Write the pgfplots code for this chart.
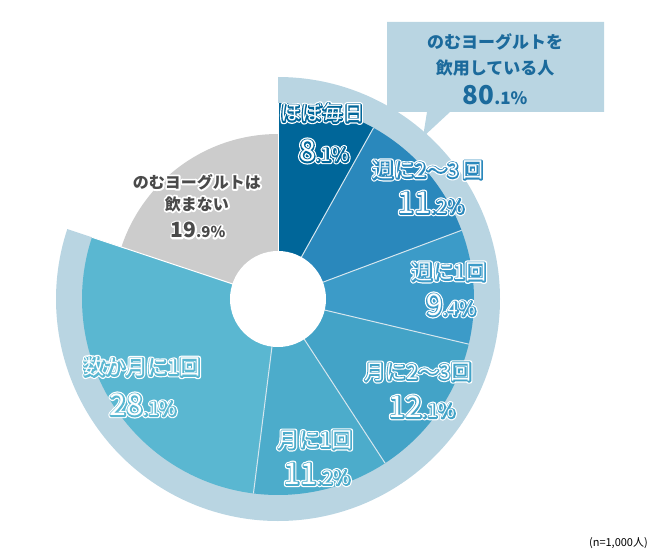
\documentclass[border=0pt]{standalone}
\usepackage{fontspec}
\setmainfont{Noto Sans CJK JP}
\usepackage{pgfplots}
\pgfplotsset{compat=1.18}
\usepackage{pgfplotstable}

\definecolor{c0}{HTML}{006699}
\definecolor{c1}{HTML}{2A88BC}
\definecolor{c2}{HTML}{3C9BC8}
\definecolor{c3}{HTML}{43A3C7}
\definecolor{c4}{HTML}{4CACCB}
\definecolor{c5}{HTML}{5AB7D1}
\definecolor{c6}{HTML}{CCCCCC}
\definecolor{ring}{HTML}{B9D5E2}
\definecolor{sep}{HTML}{D6E6EE}
\definecolor{boxtext}{HTML}{1B6A9C}
\definecolor{graytext}{HTML}{4A4A4A}

% shares in percent, clockwise from 12 o'clock
\pgfplotstableread{
share
8.1
11.2
9.4
12.1
11.2
28.1
19.9
}\shares

% start / end angle of every slice
\xdef\cum{0}
\foreach \i in {0,...,6}{%
  \pgfplotstablegetelem{\i}{share}\of\shares
  \pgfmathsetmacro\a{90-3.6*\cum}%
  \pgfmathsetmacro\b{90-3.6*(\cum+\pgfplotsretval)}%
  \expandafter\xdef\csname sa\i\endcsname{\a}%
  \expandafter\xdef\csname sb\i\endcsname{\b}%
  \pgfmathsetmacro\c{\cum+\pgfplotsretval}%
  \xdef\cum{\c}%
}

\newcommand\fs[1]{\fontsize{#1}{#1}\selectfont}
\newcommand\pc[4]{{\fs{#3}#1}{\fs{#4}#2}}
\newcommand\trset[1]{\special{pdf:literal direct #1}}

% white text, a thin line of the slice colour, then a white halo
% #1 position, #2 font, #3 slice colour, #4 text
\newcommand\olnode[4]{%
  \node[inner sep=0pt, font=#2, text=white] at (axis cs:#1)
    {\trset{2 Tr 5 w 1 j}#4\trset{0 Tr}};
  \node[inner sep=0pt, font=#2, text=#3] at (axis cs:#1)
    {\trset{1 1 1 rg 2 Tr 2.6 w 1 j}#4\trset{0 Tr}};
  \node[inner sep=0pt, font=#2, text=white] at (axis cs:#1) {#4};
}
% dark text with a white halo
\newcommand\halonode[3]{%
  \node[inner sep=0pt, font=#2, text=white] at (axis cs:#1)
    {\trset{2 Tr 3.6 w 1 j}#3\trset{0 Tr}};
  \node[inner sep=0pt, font=#2, text=graytext] at (axis cs:#1) {#3};
}

\begin{document}
\begin{tikzpicture}
\begin{axis}[
  x=1pt, y=1pt, disabledatascaling,
  xmin=-278, xmax=372, ymin=-249, ymax=299,
  hide axis, clip=false,
]
\path (axis cs:-278,-249) rectangle (axis cs:372,299);

% outer ring round the slices of drinkers (80.1 %)
\fill[ring] (axis cs:0,0) -- ++(90:222pt)
  arc[start angle=90, end angle=\csname sb5\endcsname, radius=222pt] -- cycle;

\pgfplotsinvokeforeach{0,...,5}{
  \fill[c#1] (axis cs:0,0) -- ++(\csname sa#1\endcsname:196pt)
    arc[start angle=\csname sa#1\endcsname, end angle=\csname sb#1\endcsname, radius=196pt] -- cycle;
}
\fill[c6] (axis cs:0,0) -- ++(\csname sa6\endcsname:165pt)
  arc[start angle=\csname sa6\endcsname, end angle=\csname sb6\endcsname, radius=165pt] -- cycle;

\pgfplotsinvokeforeach{1,...,5}{
  \draw[sep, line width=1pt] (axis cs:0,0) -- ++(\csname sa#1\endcsname:196pt);
}
\draw[white, line width=1pt] (axis cs:0,0) -- ++(90:196pt);
\draw[white, line width=1pt] (axis cs:0,0) -- ++(\csname sb5\endcsname:196pt);
\fill[white] (axis cs:0,0) circle[radius=48pt];

% callout
\fill[ring] (axis cs:109,277) -- (axis cs:326,277) -- (axis cs:326,187)
  -- (axis cs:172,187) -- (axis cs:145,162) -- (axis cs:149,187)
  -- (axis cs:109,187) -- cycle;
\node[text=boxtext, inner sep=0pt, font=\bfseries\fs{17}] at (axis cs:217,257) {のむヨーグルトを};
\node[text=boxtext, inner sep=0pt, font=\bfseries\fs{17}] at (axis cs:217,231) {飲用している人};
\node[text=boxtext, inner sep=0pt, font=\bfseries] at (axis cs:217,204) {\pc{80}{.1\%}{26}{17}};

% labels
\olnode{44,186}{\fs{21}}{c0}{ほぼ毎日}
\olnode{46,148}{\fs{30}}{c0}{\pc{8}{.1\%}{30}{19}}
\olnode{150,129}{\fs{21}}{c1}{週に2～3\,回}
\olnode{153,96}{\fs{30}}{c1}{\pc{11}{.2\%}{30}{19}}
\olnode{171,27}{\fs{21}}{c2}{週に1回}
\olnode{173,-6}{\fs{30}}{c2}{\pc{9}{.4\%}{30}{19}}
\olnode{140,-73}{\fs{21}}{c3}{月に2～3回}
\olnode{144,-108}{\fs{30}}{c3}{\pc{12}{.1\%}{30}{19}}
\olnode{37,-141}{\fs{21}}{c4}{月に1回}
\olnode{39,-175}{\fs{30}}{c4}{\pc{11}{.2\%}{30}{19}}
\olnode{-136,-68}{\fs{21}}{c5}{数か月に1回}
\olnode{-135,-106}{\fs{30}}{c5}{\pc{28}{.1\%}{30}{19}}

\halonode{-81,117}{\bfseries\fs{16}}{のむヨーグルトは}
\halonode{-81,95}{\bfseries\fs{16}}{飲まない}
\halonode{-80,69}{\bfseries}{\pc{19}{.9\%}{21}{15}}

\node[anchor=east, inner sep=0pt, font=\fs{11}] at (axis cs:370,-244) {(n=1,000人)};
\end{axis}
\end{tikzpicture}
\end{document}
